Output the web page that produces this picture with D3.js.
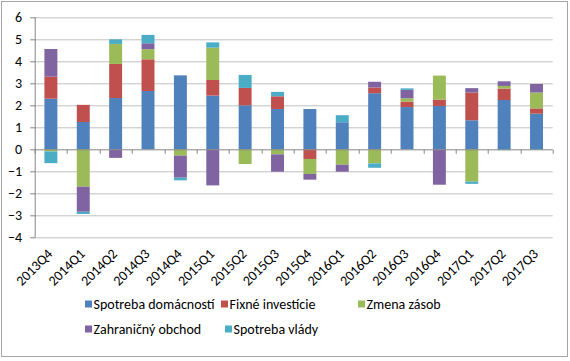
<!DOCTYPE html>
<html>
<head>
<meta charset="utf-8">
<script src="https://cdn.jsdelivr.net/npm/d3@7"></script>
<style>
    body { margin: 0; background: #fff; }
    svg text { font-family: Carlito, Calibri, Lato, "Liberation Sans", sans-serif; fill: #000; }
</style>
</head>
<body>
<svg id="chart" width="570" height="361"></svg>
<script>
var quarters = ['2013Q4', '2014Q1', '2014Q2', '2014Q3', '2014Q4', '2015Q1', '2015Q2', '2015Q3',
    '2015Q4', '2016Q1', '2016Q2', '2016Q3', '2016Q4', '2017Q1', '2017Q2', '2017Q3'];
var seriesNames = ['Spotreba domácností', 'Fixné investície', 'Zmena zásob', 'Zahraničný obchod', 'Spotreba vlády'];
var householdValues = [2.30, 1.24, 2.33, 2.65, 3.36, 2.44, 2.00, 1.83, 1.83, 1.23, 2.55, 1.92, 1.97, 1.32, 2.24, 1.62];
var investmentValues = [1.00, 0.78, 1.55, 1.44, 0.00, 0.71, 0.79, 0.58, -0.44, 0.00, 0.26, 0.25, 0.29, 1.26, 0.52, 0.24];
var inventoryValues = [-0.10, -1.70, 0.91, 0.46, -0.29, 1.47, -0.67, -0.23, -0.68, -0.70, -0.64, 0.15, 1.09, -1.47, 0.12, 0.72];
var tradeValues = [1.26, -1.14, -0.39, 0.27, -1.00, -1.64, 0.00, -0.79, -0.26, -0.32, 0.26, 0.38, -1.61, 0.20, 0.21, 0.39];
var governmentValues = [-0.53, -0.10, 0.21, 0.38, -0.12, 0.24, 0.59, 0.20, 0.00, 0.32, -0.20, 0.07, 0.00, -0.10, -0.04, -0.03];
var yTicks = [-4, -3, -2, -1, 0, 1, 2, 3, 4, 5, 6];

var colors = ['#4f81bd', '#c0504d', '#9bbb59', '#8064a2', '#4bacc6'];
var seriesValues = [householdValues, investmentValues, inventoryValues, tradeValues, governmentValues];

var svg = d3.select('#chart');
var margin = {left: 34.7, top: 17.3, right: 17.3, bottom: 123.7},
    width = 570 - margin.left - margin.right,
    height = 361 - margin.top - margin.bottom;

// outer chart border
svg.append('rect')
    .attr('x', 1.5).attr('y', 1.5)
    .attr('width', 566).attr('height', 355)
    .attr('fill', 'none')
    .attr('stroke', '#a6a6a6')
    .attr('stroke-width', 1);

var main = svg.append('g').attr('transform', 'translate(' + margin.left + ',' + margin.top + ')');

var x = d3.scaleBand().domain(quarters).range([0, width]).paddingInner(0.6).paddingOuter(0.3);
var xBound = d3.scaleLinear().domain([0, quarters.length]).range([0, width]);
var y = d3.scaleLinear().domain([-4, 6]).range([height, 0]);

// grid
main.append('g').attr('class', 'ygrids')
    .selectAll('line').data(yTicks.filter(function (d) { return d !== 0; }))
    .enter().append('line')
    .attr('x1', 0).attr('x2', width)
    .attr('y1', function (d) { return Math.round(y(d)) + 0.5; })
    .attr('y2', function (d) { return Math.round(y(d)) + 0.5; })
    .attr('stroke', '#c0c0c0');

// stacks: positives up, negatives down, in series order
var rows = quarters.map(function (q, i) {
    var row = {q: q};
    seriesValues.forEach(function (vals, s) { row[s] = vals[i]; });
    return row;
});
var stack = d3.stack()
    .keys(d3.range(seriesValues.length))
    .offset(d3.stackOffsetDiverging);
var layers = stack(rows);

main.append('g').attr('class', 'bars')
    .selectAll('g').data(layers)
    .enter().append('g')
    .attr('fill', function (d) { return colors[d.key]; })
    .selectAll('rect').data(function (d) { return d; })
    .enter().append('rect')
    .attr('x', function (d) { return x(d.data.q); })
    .attr('width', x.bandwidth())
    .attr('y', function (d) { return y(Math.max(d[0], d[1])); })
    .attr('height', function (d) { return Math.abs(y(d[0]) - y(d[1])); });

// y axis
var yAxis = d3.axisLeft(y).tickValues(yTicks).tickSize(5).tickPadding(8).tickFormat(d3.format('d'));
var yAxisG = main.append('g').attr('class', 'y-axis')
    .attr('transform', 'translate(0.5,0)')
    .call(yAxis);
yAxisG.select('.domain').attr('stroke', '#868686').attr('d', 'M0,' + y(-4) + 'V' + y(6));
yAxisG.selectAll('.tick line').attr('stroke', '#868686');
yAxisG.selectAll('.tick text').style('font-size', '14px').attr('fill', '#000');

// x axis on zero line with ticks at category boundaries
var zeroY = Math.round(y(0)) + 0.5;
main.append('line')
    .attr('x1', 0).attr('x2', width)
    .attr('y1', zeroY).attr('y2', zeroY)
    .attr('stroke', '#868686');
main.append('g').attr('class', 'xticks')
    .selectAll('line').data(d3.range(quarters.length + 1))
    .enter().append('line')
    .attr('x1', function (d) { return Math.round(xBound(d)) + 0.5; })
    .attr('x2', function (d) { return Math.round(xBound(d)) + 0.5; })
    .attr('y1', zeroY).attr('y2', zeroY + 4)
    .attr('stroke', '#868686');

// rotated category labels under the plot
main.append('g').attr('class', 'xlabels')
    .selectAll('text').data(quarters)
    .enter().append('text')
    .attr('transform', function (d) {
        return 'translate(' + (x(d) + x.bandwidth() / 2 + 2.5) + ',' + (height + 17.5) + ') rotate(-45)';
    })
    .attr('text-anchor', 'end')
    .style('font-size', '14px')
    .text(function (d) { return d; });

// legend
var legendPos = [[85, 304], [221, 304], [358, 304], [85, 329], [225, 329]];
var legend = svg.append('g').attr('class', 'legend')
    .selectAll('g').data(seriesNames)
    .enter().append('g')
    .attr('transform', function (d, i) { return 'translate(' + legendPos[i][0] + ',' + legendPos[i][1] + ')'; });
legend.append('rect')
    .attr('x', 0).attr('y', -3.5)
    .attr('width', 7).attr('height', 7)
    .attr('fill', function (d, i) { return colors[i]; });
legend.append('text')
    .attr('x', 8.5).attr('dy', '0.35em')
    .style('font-size', '14px')
    .text(function (d) { return d; });
</script>
</body>
</html>
